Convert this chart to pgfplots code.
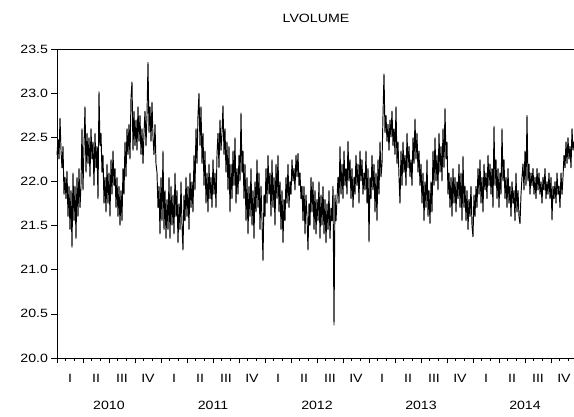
\documentclass[border=0pt]{standalone}
\usepackage{pgfplots}
\pgfplotsset{compat=1.18}
\usepackage{fontspec}
\setmainfont[FakeStretch=1.18]{Liberation Sans}
\newcommand{\ql}[2]{\node[anchor=center,yshift=-20pt] at (axis cs:#1,20) {#2};}
\newcommand{\yl}[2]{\node[anchor=center,yshift=-47pt] at (axis cs:#1,20) {#2};}
\begin{document}
\begin{tikzpicture}[x=1pt,y=1pt,font=\fontsize{12}{14}\selectfont]
\useasboundingbox (0,0) rectangle (574,417);
\begin{axis}[
  at={(57pt,59pt)}, anchor=south west,
  scale only axis, width=518pt, height=309pt,
  xmin=0, xmax=518, ymin=20, ymax=23.5,
  axis x line*=bottom, axis y line*=left,
  axis line style={line width=0.8pt,-},
  tick align=outside,
  major tick length=5.5pt, minor tick length=3pt,
  tick style={line width=0.7pt,black},
  xtick={0,26,...,520}, xticklabels={},
  minor xtick={0,8.6667,...,518},
  ytick={20,20.5,...,23.5},
  /pgf/number format/assume math mode=true,
  yticklabel style={/pgf/number format/fixed,/pgf/number format/fixed zerofill,/pgf/number format/precision=1},
  tick label style={font=\fontsize{12}{14}\selectfont},
  clip=false,
]
\addplot[black, line width=0.95pt, line join=miter, miter limit=3] coordinates {
(0,22.30)(1,22.48)(2,22.25)(3,22.72)(4,22.35)(5,22.15)(6,22.40)(7,21.85)(8,22.05)(9,21.80)
(10,22.12)(11,21.60)(12,21.95)(13,21.45)(14,21.90)(15,21.25)(16,22.10)(17,21.55)(18,21.95)(19,21.35)
(20,22.05)(21,21.60)(22,22.15)(23,21.70)(24,21.95)(25,22.60)(26,21.90)(27,22.40)(28,22.85)(29,22.10)
(30,22.55)(31,22.20)(32,22.50)(33,22.05)(34,22.60)(35,22.25)(36,22.45)(37,21.95)(38,22.55)(39,22.15)
(40,22.40)(41,21.80)(42,23.02)(43,22.40)(44,22.55)(45,22.10)(46,22.30)(47,21.75)(48,22.05)(49,21.65)
(50,22.20)(51,21.75)(52,22.10)(53,21.60)(54,22.25)(55,21.85)(56,22.35)(57,21.95)(58,22.15)(59,21.70)
(60,22.05)(61,21.60)(62,21.95)(63,21.50)(64,21.90)(65,21.55)(66,22.15)(67,21.85)(68,22.45)(69,22.05)
(70,22.60)(71,22.30)(72,22.65)(73,22.25)(74,22.95)(75,23.13)(76,22.35)(77,22.80)(78,22.40)(79,22.70)
(80,22.35)(81,22.85)(82,22.45)(83,22.75)(84,22.30)(85,22.60)(86,22.20)(87,22.55)(88,22.80)(89,22.40)
(90,22.75)(91,23.35)(92,22.55)(93,22.85)(94,22.45)(95,22.90)(96,22.50)(97,22.30)(98,22.65)(99,22.20)
(100,22.10)(101,21.70)(102,21.95)(103,21.40)(104,22.05)(105,21.55)(106,22.35)(107,21.45)(108,21.90)(109,21.35)
(110,21.80)(111,21.45)(112,22.05)(113,21.35)(114,21.95)(115,21.50)(116,21.85)(117,21.40)(118,22.10)(119,21.60)
(120,21.90)(121,21.30)(122,21.75)(123,21.45)(124,22.00)(125,21.50)(126,21.22)(127,21.85)(128,21.55)(129,22.05)
(130,21.60)(131,21.95)(132,21.45)(133,22.10)(134,21.70)(135,22.00)(136,21.65)(137,22.30)(138,21.90)(139,22.60)
(140,22.20)(141,22.75)(142,23.00)(143,22.40)(144,22.85)(145,22.20)(146,22.55)(147,21.95)(148,22.35)(149,21.75)
(150,22.10)(151,21.65)(152,22.20)(153,21.80)(154,22.05)(155,21.70)(156,22.25)(157,21.85)(158,22.10)(159,21.70)
(160,22.30)(161,22.55)(162,22.15)(163,22.70)(164,22.35)(165,22.55)(166,22.86)(167,22.30)(168,22.60)(169,22.10)
(170,22.45)(171,21.90)(172,22.40)(173,21.65)(174,22.20)(175,21.80)(176,22.35)(177,21.95)(178,22.50)(179,21.75)
(180,22.15)(181,21.85)(182,22.30)(183,22.00)(184,22.78)(185,22.10)(186,22.35)(187,21.80)(188,22.20)(189,21.55)
(190,22.05)(191,21.40)(192,21.95)(193,21.60)(194,22.15)(195,21.50)(196,21.90)(197,21.35)(198,22.00)(199,21.65)
(200,22.25)(201,21.70)(202,22.10)(203,21.45)(204,21.95)(205,21.55)(206,21.10)(207,21.85)(208,21.60)(209,22.15)
(210,21.75)(211,22.30)(212,21.85)(213,22.10)(214,21.60)(215,22.25)(216,21.70)(217,22.05)(218,21.50)(219,22.20)
(220,21.80)(221,22.30)(222,21.65)(223,22.00)(224,21.45)(225,21.90)(226,21.30)(227,21.80)(228,21.55)(229,22.05)
(230,21.75)(231,22.20)(232,21.70)(233,22.00)(234,21.85)(235,22.25)(236,22.00)(237,22.15)(238,21.90)(239,22.30)
(240,22.05)(241,22.32)(242,21.95)(243,22.10)(244,21.80)(245,21.95)(246,21.55)(247,21.95)(248,21.40)(249,21.85)
(250,21.60)(251,21.22)(252,21.75)(253,21.50)(254,22.05)(255,21.65)(256,22.00)(257,21.45)(258,21.90)(259,21.40)
(260,21.80)(261,21.55)(262,22.00)(263,21.35)(264,21.85)(265,21.50)(266,21.95)(267,21.40)(268,21.80)(269,21.30)
(270,21.75)(271,21.45)(272,21.90)(273,21.35)(274,21.70)(275,21.55)(276,21.95)(277,20.37)(278,21.85)(279,21.55)
(280,21.80)(281,22.05)(282,21.75)(283,22.40)(284,21.85)(285,22.20)(286,21.80)(287,22.35)(288,21.95)(289,22.15)
(290,21.85)(291,22.46)(292,22.00)(293,22.25)(294,21.80)(295,22.15)(296,21.70)(297,22.05)(298,21.85)(299,22.30)
(300,21.95)(301,22.20)(302,21.75)(303,22.35)(304,22.00)(305,22.25)(306,21.85)(307,22.10)(308,21.90)(309,22.35)
(310,21.75)(311,22.15)(312,21.31)(313,22.05)(314,21.80)(315,22.30)(316,21.90)(317,22.20)(318,21.65)(319,22.10)
(320,21.55)(321,22.25)(322,21.85)(323,22.45)(324,22.05)(325,22.20)(326,22.75)(327,23.22)(328,22.55)(329,22.75)
(330,22.45)(331,22.65)(332,22.35)(333,22.70)(334,22.50)(335,22.80)(336,22.40)(337,22.60)(338,22.30)(339,22.85)
(340,22.20)(341,22.45)(342,22.05)(343,21.75)(344,22.35)(345,21.95)(346,22.45)(347,22.10)(348,22.30)(349,21.95)
(350,22.55)(351,22.15)(352,22.40)(353,22.05)(354,22.25)(355,21.95)(356,22.50)(357,22.20)(358,22.71)(359,22.25)
(360,22.55)(361,22.10)(362,22.35)(363,21.95)(364,22.20)(365,21.75)(366,22.10)(367,21.55)(368,22.00)(369,21.70)
(370,22.25)(371,21.60)(372,21.90)(373,21.52)(374,22.00)(375,21.65)(376,22.35)(377,21.95)(378,22.50)(379,22.00)
(380,22.30)(381,21.90)(382,22.55)(383,22.10)(384,22.40)(385,22.00)(386,22.60)(387,22.15)(388,22.83)(389,22.25)
(390,22.45)(391,21.85)(392,22.10)(393,21.70)(394,22.05)(395,21.60)(396,22.15)(397,21.75)(398,22.05)(399,21.65)
(400,22.00)(401,21.80)(402,22.20)(403,21.70)(404,22.10)(405,21.55)(406,22.29)(407,21.70)(408,21.95)(409,21.55)
(410,21.90)(411,21.45)(412,21.80)(413,21.60)(414,21.95)(415,21.50)(416,21.37)(417,21.85)(418,21.60)(419,21.95)
(420,21.70)(421,22.15)(422,21.85)(423,22.25)(424,21.75)(425,22.05)(426,21.65)(427,22.20)(428,21.90)(429,22.10)
(430,21.80)(431,22.30)(432,21.95)(433,22.20)(434,21.85)(435,22.15)(436,21.70)(437,22.63)(438,21.95)(439,22.25)
(440,21.80)(441,22.15)(442,21.70)(443,22.10)(444,21.85)(445,22.60)(446,22.00)(447,22.25)(448,21.80)(449,22.05)
(450,21.70)(451,22.15)(452,21.75)(453,21.95)(454,21.60)(455,22.00)(456,21.75)(457,21.90)(458,21.55)(459,22.10)
(460,21.65)(461,21.90)(462,21.60)(463,21.52)(464,21.85)(465,22.05)(466,22.20)(467,21.90)(468,22.35)(469,21.95)
(470,22.75)(471,22.00)(472,22.20)(473,21.85)(474,22.10)(475,21.95)(476,22.15)(477,21.85)(478,22.05)(479,21.80)
(480,22.15)(481,21.90)(482,22.10)(483,21.85)(484,22.00)(485,21.75)(486,22.05)(487,21.90)(488,22.15)(489,21.80)
(490,22.00)(491,21.85)(492,22.10)(493,21.80)(494,22.05)(495,21.56)(496,21.95)(497,21.80)(498,22.00)(499,21.75)
(500,22.10)(501,21.85)(502,21.95)(503,21.70)(504,22.10)(505,21.85)(506,22.05)(507,22.30)(508,22.15)(509,22.45)
(510,22.20)(511,22.50)(512,22.25)(513,22.40)(514,22.15)(515,22.60)(516,22.35)(517,22.45)
};
\draw[line width=0.8pt] (rel axis cs:0,1) -- (rel axis cs:1,1);
\ql{13}{I}\ql{39}{II}\ql{65}{III}\ql{91}{IV}
\ql{117}{I}\ql{143}{II}\ql{169}{III}\ql{195}{IV}
\ql{221}{I}\ql{247}{II}\ql{273}{III}\ql{299}{IV}
\ql{325}{I}\ql{351}{II}\ql{377}{III}\ql{403}{IV}
\ql{429}{I}\ql{455}{II}\ql{481}{III}\ql{507}{IV}
\yl{52}{2010}\yl{156}{2011}\yl{260}{2012}\yl{364}{2013}\yl{468}{2014}
\end{axis}
\node at (316,399) {LVOLUME};
\end{tikzpicture}
\end{document}
